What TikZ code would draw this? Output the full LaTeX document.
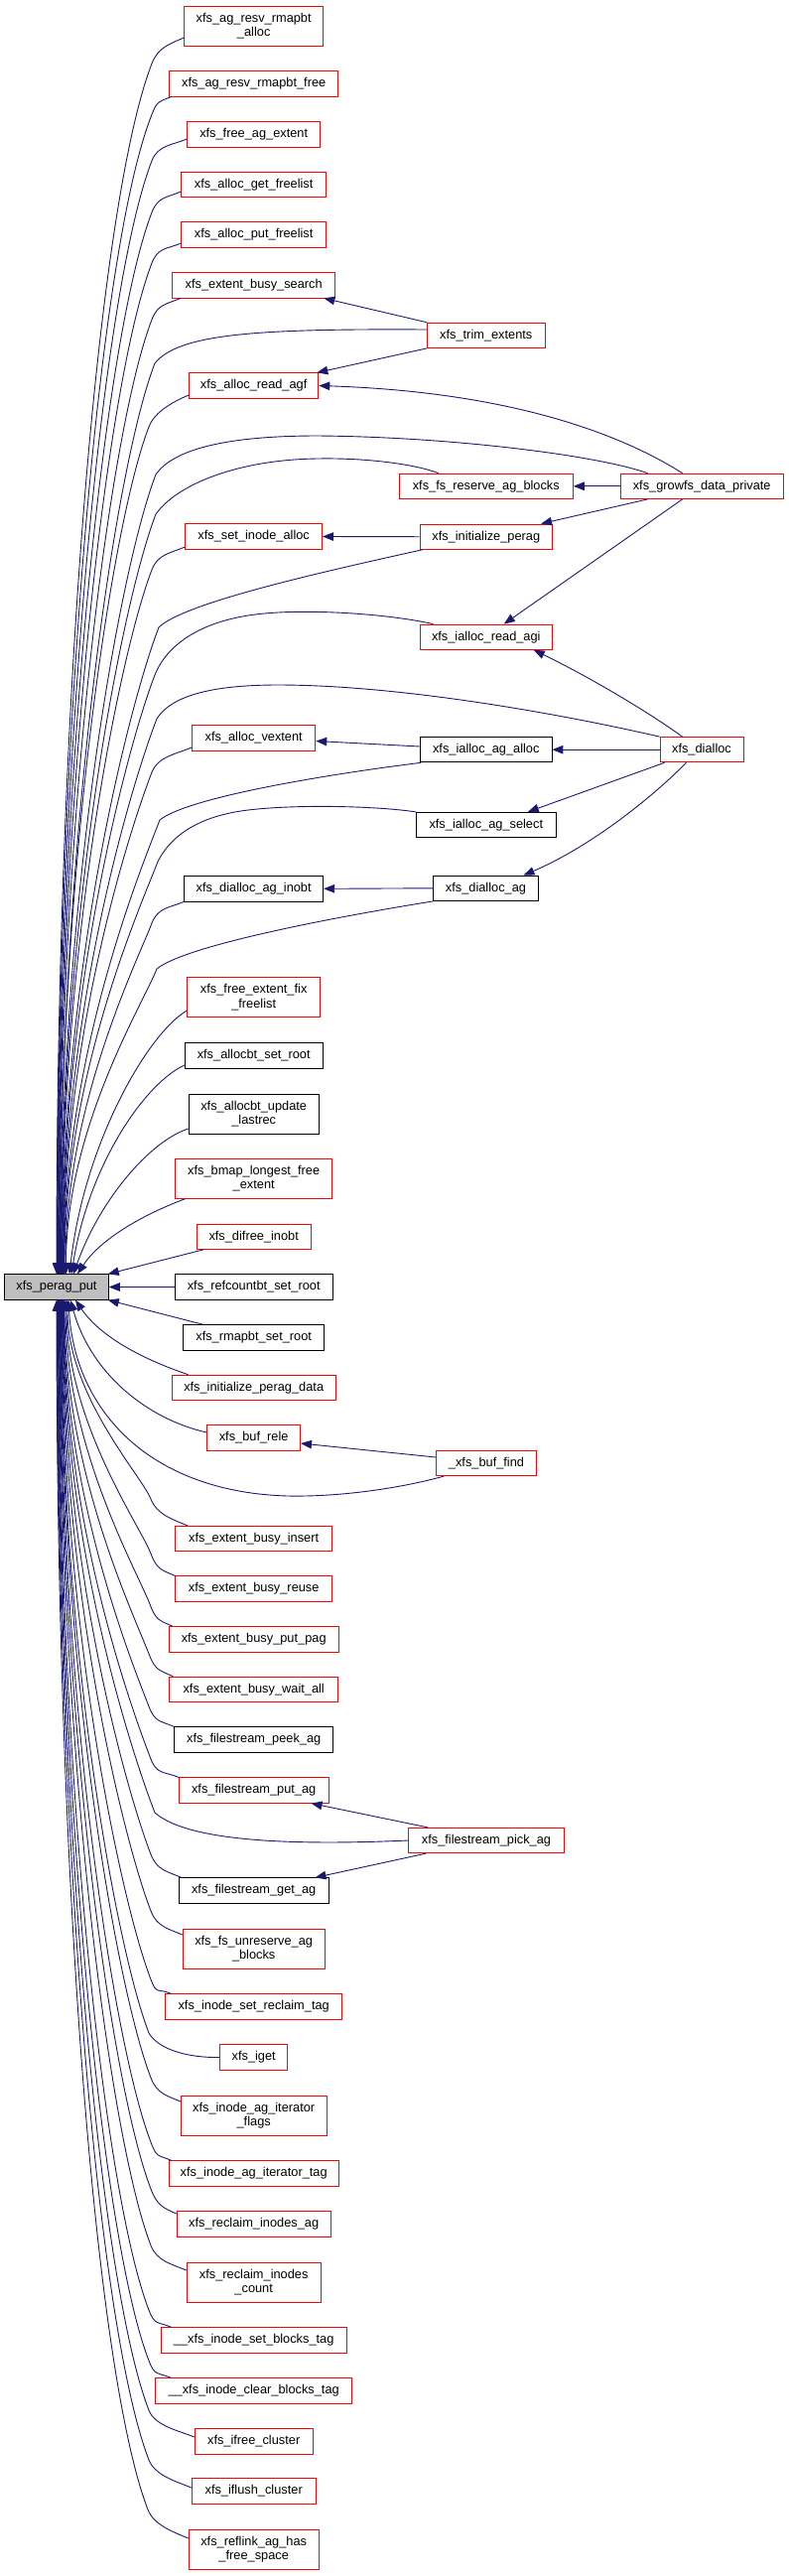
\documentclass[tikz,border=0pt]{standalone}
\usepackage{fontspec}
\setmainfont{Liberation Sans}
\usetikzlibrary{arrows.meta}
\definecolor{edgeblue}{HTML}{191970}
\definecolor{boxred}{HTML}{FF0000}
\definecolor{boxgray}{HTML}{BFBFBF}
\newcommand\UpEx[4]{\draw[edge] #1 .. controls +({-0.0435*(1284-#3)},{0.1125*(1284-#3)}) and +(0,{-0.48*(1284-#3)}) .. (pp.north -| #4,0);}
\newcommand\UpE[4]{\UpEx{(#1) .. controls +(-14,6) and +(6,-16) .. (#2,#3)}{#2}{#3}{#4}}
\newcommand\DnEx[4]{\draw[edge] #1 .. controls +({-0.0435*(#3-1309)},{-0.1125*(#3-1309)}) and +(0,{0.48*(#3-1309)}) .. (pp.south -| #4,0);}
\newcommand\DnE[4]{\DnEx{(#1) .. controls +(-14,-6) and +(6,16) .. (#2,#3)}{#2}{#3}{#4}}
\begin{document}
\begin{tikzpicture}[x=1pt,y=-1pt,
  box/.style={draw, line width=0.9pt, inner sep=0pt, fill=white, align=center,
    minimum height=25.3pt, font=\fontsize{12.8}{14.5}\selectfont},
  rbox/.style={box, draw=boxred},
  kbox/.style={box, draw=black},
  tall/.style={minimum height=40pt},
  edge/.style={draw=edgeblue, line width=0.9pt, -{Triangle[length=11pt,width=8.5pt]}}]
\useasboundingbox (0,0) rectangle (795,2595);
% main node
\node[box, fill=boxgray, draw=black, minimum width=104.6pt] (pp) at (57,1296.5) {xfs\_perag\_put};
% column 1
\node[rbox, tall, minimum width=140pt] (n1) at (255.7,26) {xfs\_ag\_resv\_rmapbt\\\_alloc};
\node[rbox, minimum width=169.7pt] (n2) at (255.7,84.3) {xfs\_ag\_resv\_rmapbt\_free};
\node[rbox, minimum width=133.7pt] (n3) at (255.7,135.3) {xfs\_free\_ag\_extent};
\node[rbox, minimum width=145.7pt] (n4) at (255.7,185.8) {xfs\_alloc\_get\_freelist};
\node[rbox, minimum width=145.7pt] (n5) at (255.7,236.3) {xfs\_alloc\_put\_freelist};
\node[rbox, minimum width=164.3pt] (n6) at (255.7,287.3) {xfs\_extent\_busy\_search};
\node[rbox, minimum width=130.3pt] (n7) at (255.7,388.5) {xfs\_alloc\_read\_agf};
\node[rbox, minimum width=137.7pt] (n8) at (255.7,540.5) {xfs\_set\_inode\_alloc};
\node[rbox, minimum width=124.3pt] (n9) at (255.7,743.3) {xfs\_alloc\_vextent};
\node[kbox, minimum width=140pt] (n10) at (255.7,895.3) {xfs\_dialloc\_ag\_inobt};
\node[rbox, tall, minimum width=133.7pt] (n11) at (255.7,1004.7) {xfs\_free\_extent\_fix\\\_freelist};
\node[kbox, minimum width=138.7pt] (n12) at (255.7,1063.5) {xfs\_allocbt\_set\_root};
\node[kbox, tall, minimum width=131pt] (n13) at (255.7,1122) {xfs\_allocbt\_update\\\_lastrec};
\node[rbox, tall, minimum width=157.7pt] (n14) at (255.7,1187.3) {xfs\_bmap\_longest\_free\\\_extent};
\node[rbox, minimum width=115pt] (n15) at (255.7,1245.8) {xfs\_difree\_inobt};
\node[kbox, minimum width=158.7pt] (n16) at (255.7,1296.5) {xfs\_refcountbt\_set\_root};
\node[kbox, minimum width=141.7pt] (n17) at (255.7,1347.3) {xfs\_rmapbt\_set\_root};
\node[rbox, minimum width=165.3pt] (n18) at (255.7,1397.8) {xfs\_initialize\_perag\_data};
\node[rbox, minimum width=93.7pt] (n19) at (255.7,1448.5) {xfs\_buf\_rele};
\node[rbox, minimum width=157.7pt] (n20) at (255.7,1550.2) {xfs\_extent\_busy\_insert};
\node[rbox, minimum width=157.7pt] (n21) at (255.7,1600.5) {xfs\_extent\_busy\_reuse};
\node[rbox, minimum width=170.6pt] (n22) at (255.7,1651.3) {xfs\_extent\_busy\_put\_pag};
\node[rbox, minimum width=169.7pt] (n23) at (255.7,1701.8) {xfs\_extent\_busy\_wait\_all};
\node[kbox, minimum width=159.7pt] (n24) at (255.7,1752.5) {xfs\_filestream\_peek\_ag};
\node[rbox, minimum width=150.7pt] (n25) at (255.7,1803.5) {xfs\_filestream\_put\_ag};
\node[kbox, minimum width=150.7pt] (n26) at (255.7,1904.5) {xfs\_filestream\_get\_ag};
\node[rbox, tall, minimum width=143pt] (n27) at (255.7,1963) {xfs\_fs\_unreserve\_ag\\\_blocks};
\node[rbox, minimum width=177.7pt] (n28) at (255.7,2021.5) {xfs\_inode\_set\_reclaim\_tag};
\node[rbox, minimum width=68.3pt] (n29) at (255.7,2072.5) {xfs\_iget};
\node[rbox, tall, minimum width=146.7pt] (n30) at (255.7,2131.3) {xfs\_inode\_ag\_iterator\\\_flags};
\node[rbox, minimum width=171pt] (n31) at (255.7,2189.5) {xfs\_inode\_ag\_iterator\_tag};
\node[rbox, minimum width=155pt] (n32) at (255.7,2240.3) {xfs\_reclaim\_inodes\_ag};
\node[rbox, tall, minimum width=135pt] (n33) at (255.7,2299) {xfs\_reclaim\_inodes\\\_count};
\node[rbox, minimum width=187pt] (n34) at (255.7,2357.5) {\_\_xfs\_inode\_set\_blocks\_tag};
\node[rbox, minimum width=197.7pt] (n35) at (255.7,2408.5) {\_\_xfs\_inode\_clear\_blocks\_tag};
\node[rbox, minimum width=119pt] (n36) at (255.7,2459.5) {xfs\_ifree\_cluster};
\node[rbox, minimum width=125pt] (n37) at (255.7,2509.5) {xfs\_iflush\_cluster};
\node[rbox, tall, minimum width=131pt] (n38) at (255.7,2568) {xfs\_reflink\_ag\_has\\\_free\_space};
% column 2
\node[rbox, minimum width=118.7pt] (trim) at (489.8,337.8) {xfs\_trim\_extents};
\node[rbox, minimum width=175pt] (fsres) at (489.8,489.8) {xfs\_fs\_reserve\_ag\_blocks};
\node[rbox, minimum width=133.7pt] (initp) at (489.8,540.7) {xfs\_initialize\_perag};
\node[rbox, minimum width=133.7pt] (agi) at (489.8,641.7) {xfs\_ialloc\_read\_agi};
\node[kbox, minimum width=132.3pt] (agalloc) at (489.8,755.2) {xfs\_ialloc\_ag\_alloc};
\node[kbox, minimum width=140.3pt] (agsel) at (489.8,831) {xfs\_ialloc\_ag\_select};
\node[kbox, minimum width=105.6pt] (dag) at (489.5,894.8) {xfs\_dialloc\_ag};
\node[rbox, minimum width=100.6pt] (bf) at (490,1474) {\_xfs\_buf\_find};
\node[rbox, minimum width=156.6pt] (pick) at (490,1854) {xfs\_filestream\_pick\_ag};
% column 3
\node[rbox, minimum width=164.3pt] (growfs) at (707.2,489.8) {xfs\_growfs\_data\_private};
\node[rbox, minimum width=84pt] (dialloc) at (707,755.2) {xfs\_dialloc};
% ---- edges into xfs_perag_put from above
\UpE{n1.west |- 0,38}{153}{64}{57}
\UpE{[xshift=2pt]n2.south west}{152}{118}{57.5}
\UpE{n3.west |- 0,140}{153}{162}{58}
\UpE{n4.west |- 0,193}{153}{214}{58.5}
\UpE{n5.west |- 0,245}{153}{265}{59}
\UpE{[xshift=9pt]n6.south west}{153}{322}{59.5}
\UpE{n7.west |- 0,398}{150}{430}{60}
\UpEx{(trim.west |- 0,332) .. controls (260,331) and (180,336) .. (156,366)}{156}{366}{60.5}
\UpEx{([xshift=28pt]growfs.north west) .. controls (600,458) and (450,440) .. (320,439) .. controls (230,439) and (175,452) .. (157,478)}{157}{478}{61}
\UpEx{([xshift=40pt]fsres.north west) .. controls (420,468) and (370,461) .. (320,462) .. controls (240,463) and (178,488) .. (157,518)}{157}{518}{61.5}
\UpE{n8.west |- 0,551}{153}{574}{62}
\UpEx{([xshift=3pt]initp.south west) .. controls (330,575) and (185,607) .. (160,632)}{160}{632}{62.5}
\UpEx{([xshift=14pt]agi.north west) .. controls (390,618) and (300,612) .. (250,620) .. controls (200,628) and (168,650) .. (156,680)}{156}{680}{63}
\UpEx{(dialloc.north west) .. controls (560,718) and (400,690) .. (280,690) .. controls (210,690) and (172,702) .. (158,724)}{158}{724}{63.5}
\UpE{n9.west |- 0,753}{153}{778}{64}
\UpEx{([xshift=1pt]agalloc.south west) .. controls (330,780) and (190,803) .. (161,826)}{161}{826}{64.5}
\UpEx{(agsel.north west) .. controls (380,812) and (300,810) .. (250,816) .. controls (200,822) and (172,842) .. (159,868)}{159}{868}{65}
\UpE{n10.south west}{153}{930}{66}
\UpEx{(dag.south west) .. controls (330,925) and (186,953) .. (158,976)}{158}{976}{66.5}
\draw[edge] (n11.west |- 0,1018) .. controls (150,1040) and (85,1150) .. ([xshift=13pt]pp.north);
\draw[edge] (n12.west |- 0,1073) .. controls (148,1090) and (90,1170) .. ([xshift=15pt]pp.north);
\draw[edge] (n13.west |- 0,1137) .. controls (150,1150) and (100,1210) .. ([xshift=17pt]pp.north);
\draw[edge] ([xshift=10pt]n14.south west) .. controls (140,1225) and (100,1250) .. ([xshift=21pt]pp.north);
\draw[edge] ([xshift=7pt]n15.south west) -- ([xshift=-1pt]pp.north east);
% ---- edges between callers
\draw[edge] (trim.north west) -- ([xshift=-12pt]n6.south east);
\draw[edge] (trim.south west) -- ([xshift=-2pt]n7.north east);
\draw[edge] ([xshift=63pt]growfs.north west) .. controls (630,440) and (520,395) .. (n7.east);
\draw[edge] (growfs.west) -- (fsres.east);
\draw[edge] ([xshift=28pt]growfs.south west) -- ([xshift=-12pt]initp.north east);
\draw[edge] ([xshift=63pt]growfs.south west) -- ([xshift=18pt]agi.north);
\draw[edge] (initp.west) -- (n8.east);
\draw[edge] ([xshift=23pt]dialloc.north west) .. controls (650,715) and (590,680) .. ([xshift=48pt]agi.south);
\draw[edge] (dialloc.west) -- (agalloc.east);
\draw[edge] (agalloc.west |- 0,752) -- (n9.east |- 0,746.5);
\draw[edge] ([xshift=5pt]dialloc.south west) -- ([xshift=42pt]agsel.north);
\draw[edge] ([xshift=27pt]dialloc.south west) .. controls (650,810) and (590,855) .. ([xshift=38pt]dag.north);
\draw[edge] (dag.west) -- (n10.east);
\draw[edge] (bf.west |- 0,1468) -- (n19.east |- 0,1454);
\draw[edge] ([xshift=20pt]pick.north west) -- ([xshift=-18pt]n25.south east);
\draw[edge] ([xshift=18pt]pick.south west) -- ([xshift=-14pt]n26.north east);
% ---- edges into xfs_perag_put from below
\draw[edge] (n16.west) -- (pp.east);
\draw[edge] ([xshift=20pt]n17.north west) -- ([xshift=-1pt]pp.south east);
\draw[edge] ([xshift=17pt]n18.north west) .. controls (140,1368) and (100,1345) .. ([xshift=19pt]pp.south);
\draw[edge] (n19.west |- 0,1443) .. controls (150,1430) and (92,1385) .. ([xshift=14pt]pp.south);
\draw[edge] ([xshift=8pt]bf.south west) .. controls (400,1500) and (340,1508) .. (290,1507) .. controls (150,1503) and (75,1420) .. ([xshift=12pt]pp.south);
\DnE{[xshift=13pt]n20.north west}{152}{1510}{68}
\DnE{n21.north west}{152}{1565}{67}
\DnE{[xshift=4pt]n22.north west}{151}{1616}{66}
\DnE{[xshift=4pt]n23.north west}{150}{1666}{65}
\DnE{n24.north west}{150}{1719}{64.5}
\DnE{n25.north west}{152}{1772}{64}
\DnEx{(pick.west) .. controls (300,1859) and (190,1856) .. (156,1826)}{156}{1826}{63.5}
\DnE{[xshift=3pt]n26.north west}{152}{1868}{63}
\DnE{n27.west |- 0,1949}{152}{1925}{62.5}
\DnE{[xshift=6pt]n28.north west}{152}{1994}{62}
\DnEx{(n29.west) .. controls (190,2073) and (160,2065) .. (150,2048)}{150}{2048}{61.5}
\DnE{n30.west |- 0,2117}{152}{2093}{61}
\DnE{[xshift=3pt]n31.north west}{152}{2158}{60.5}
\DnE{n32.west |- 0,2230}{152}{2205}{60}
\DnE{n33.west |- 0,2287}{152}{2262}{59.5}
\DnE{[xshift=11pt]n34.north west}{150}{2327}{59}
\DnE{[xshift=16pt]n35.north west}{150}{2378}{58.5}
\DnE{n36.west |- 0,2455}{150}{2428}{58}
\DnE{n37.west |- 0,2506}{150}{2478}{57.5}
\DnE{n38.west |- 0,2557}{149}{2528}{57}
\end{tikzpicture}
\end{document}
